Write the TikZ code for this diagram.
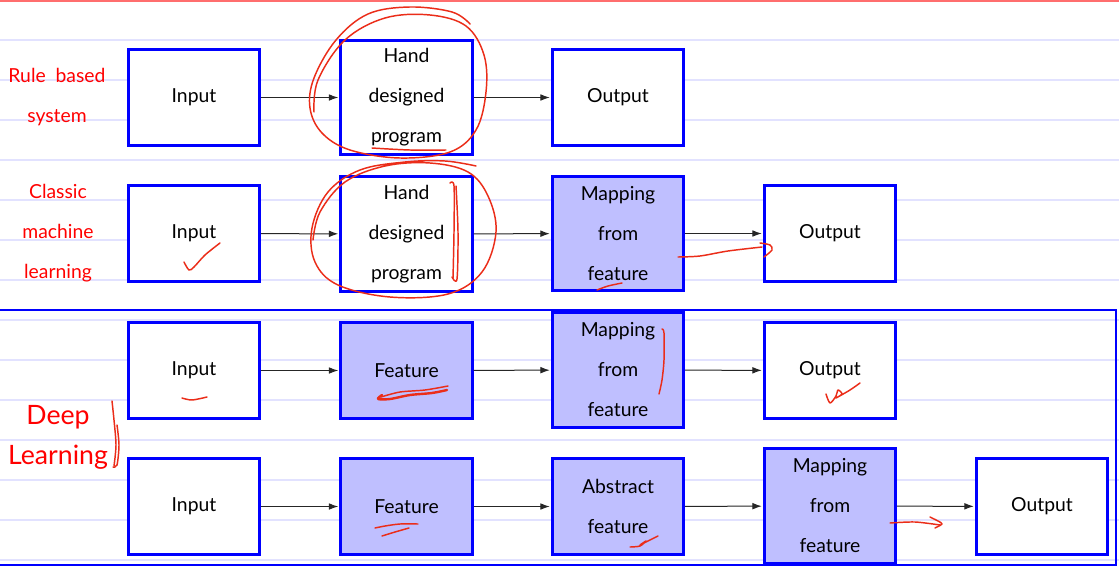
\documentclass[tikz,border=0pt]{standalone}
\usepackage{fontspec}
\setmainfont{Lato}
\usetikzlibrary{arrows.meta}
\definecolor{ruleline}{RGB}{226,226,255}
\definecolor{topline}{RGB}{255,110,110}
\definecolor{ink}{RGB}{235,45,25}
\tikzset{
  stage/.style={draw=blue, line width=2.25pt, fill=white, inner sep=0pt,
    minimum width=98.5pt, minimum height=72pt, align=center,
    font=\fontsize{14.5}{30}\selectfont},
  tallstage/.style={stage, minimum height=86pt},
  learned/.style={fill=blue!25},
  flow/.style={-{Latex[length=7pt,width=5pt]}, draw=black!85, line width=0.75pt, shorten >=0.8pt},
  tag/.style={text=red, align=center, inner sep=0pt, font=\fontsize{14.5}{30}\selectfont},
  bigtag/.style={text=red, align=center, inner sep=0pt, font=\fontsize{20}{30}\selectfont},
  pen/.style={draw=ink, line width=1.1pt, line cap=round, line join=round}
}
\begin{document}
\begin{tikzpicture}[x=0.75pt, y=-0.75pt]
\useasboundingbox (0,0) rectangle (1119,567);
\fill[white] (0,0) rectangle (1119,567);

% ruled paper
\foreach \k in {1,...,14} \draw[ruleline, line width=1.1pt] (0,40*\k) -- (1119,40*\k);
\draw[topline, line width=1.5pt] (0,1) -- (1119,1);

% frame around the deep learning rows
\draw[blue, line width=1.5pt] (-3,310) rectangle (1116,565);

% row labels
\node[tag] (lrule) at (57,97) {Rule~~based\\system};
\node[tag] (lclassic) at (58,233) {Classic\\machine\\learning};
\node[bigtag] (ldeep) at (58,437) {Deep\\Learning};

% rule based system
\node[stage] (a1) at (194,97.5) {Input};
\node[tallstage] (a2) at (406.5,97.5) {Hand\\designed\\program};
\node[stage] (a3) at (618,97.5) {Output};
\draw[flow] (a1) -- (a2);
\draw[flow] (a2) -- (a3);

% classic machine learning
\node[stage] (b1) at (194,233.5) {Input};
\node[tallstage] (b2) at (406.5,234) {Hand\\designed\\program};
\node[tallstage, learned] (b3) at (618,233.5) {Mapping\\from\\feature};
\node[stage] (b4) at (830,233.5) {Output};
\draw[flow] (b1) -- (b2);
\draw[flow] (b2) -- (b3);
\draw[flow] (b3) -- (b4);

% deep learning, one feature level
\node[stage] (c1) at (194,370.5) {Input};
\node[stage, learned] (c2) at (406.5,370.5) {Feature};
\node[tallstage, learned] (c3) at (618,370) {Mapping\\from\\feature};
\node[stage] (c4) at (830,370.5) {Output};
\draw[flow] (c1) -- (c2);
\draw[flow] (c2) -- (c3);
\draw[flow] (c3) -- (c4);

% deep learning, abstract features
\node[stage] (d1) at (194,506.5) {Input};
\node[stage, learned] (d2) at (406.5,506.5) {Feature};
\node[stage, learned] (d3) at (618,506.5) {Abstract\\feature};
\node[tallstage, learned] (d4) at (830,506) {Mapping\\from\\feature};
\node[stage] (d5) at (1042,506.5) {Output};
\draw[flow] (d1) -- (d2);
\draw[flow] (d2) -- (d3);
\draw[flow] (d3) -- (d4);
\draw[flow] (d4) -- (d5);

% handwritten marks
% loops around the hand designed programs
\draw[pen] plot[smooth, tension=0.6] coordinates {(470,24) (452,12) (410,7) (368,14) (336,40) (314,78) (310,108) (322,133) (350,150) (400,158) (450,152) (476,130) (486,92) (484,55) (466,26) (430,15) (385,18) (345,40) (318,80) (314,112)};
\draw[pen] plot[smooth, tension=0.6] coordinates {(372,148) (410,150) (446,150)};
\draw[pen] plot[smooth, tension=0.6] coordinates {(476,166) (445,161) (405,162) (360,170) (328,192) (312,228) (315,262) (338,285) (390,297) (448,294) (482,272) (496,232) (488,196) (468,172) (430,163) (385,166) (345,182) (320,212) (313,240)};
\draw[pen] plot[smooth, tension=0.5] coordinates {(450,183) (454,186) (454,232) (453,278)};
\draw[pen] plot[smooth, tension=0.5] coordinates {(456,186) (458,232) (457,279) (452,277)};
% tick under the classic input
\draw[pen] plot[smooth, tension=0.5] coordinates {(184,262) (189,270) (194,267) (205,255) (220,243)};
% underline and arrow in the classic row
\draw[pen] plot[smooth, tension=0.5] coordinates {(597,290) (608,286) (622,283)};
\draw[pen] plot[smooth, tension=0.5] coordinates {(678,257) (700,256) (728,251) (762,247)};
\draw[pen] plot[smooth, tension=0.5] coordinates {(760,243) (770,245) (772,250) (764,257)};
% marks in the first deep learning row
\draw[pen] plot[smooth, tension=0.5] coordinates {(182,398) (192,400) (207,397)};
\draw[pen, line width=1.8pt] plot[smooth, tension=0.5] coordinates {(382,395) (378,399) (390,399) (410,395) (432,393) (447,390)};
\draw[pen] plot[smooth, tension=0.5] coordinates {(381,397) (400,392) (425,390) (448,386)};
\draw[pen] plot[smooth, tension=0.5] coordinates {(662,329) (664,333) (664,360) (662,380) (659,394)};
\draw[pen] plot[smooth, tension=0.5] coordinates {(826,394) (830,403) (836,396) (838,390) (842,394) (836,398) (850,390) (860,383)};
% bracket next to the deep learning label
\draw[pen] plot[smooth, tension=0.5] coordinates {(112,401) (114,420) (116,445) (114,466)};
\draw[pen] plot[smooth, tension=0.5] coordinates {(117,425) (119,445) (117,465) (113,467)};
% marks in the second deep learning row
\draw[pen] plot[smooth, tension=0.5] coordinates {(375,528) (385,526) (400,524) (418,524)};
\draw[pen] plot[smooth, tension=0.5] coordinates {(382,536) (395,532) (409,528)};
\draw[pen] plot[smooth, tension=0.5] coordinates {(630,547) (640,546) (646,541) (640,545) (648,541) (658,536)};
\draw[pen] plot[smooth, tension=0.5] coordinates {(890,523) (915,522) (940,525)};
\draw[pen] plot[smooth, tension=0.5] coordinates {(930,517) (938,521) (942,524) (935,528)};
\end{tikzpicture}
\end{document}
